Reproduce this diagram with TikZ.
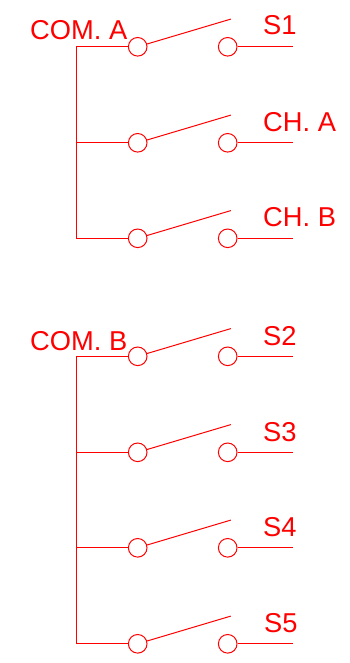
\documentclass[tikz,border=0pt]{standalone}
\usepackage{fontspec}
\setmainfont{Liberation Sans}
\tikzset{
  wire/.style={draw=red,line width=1pt},
  contact/.style={circle,draw=red,line width=1pt,fill=white,inner sep=0pt,minimum size=18.6pt},
  lbl/.style={text=red,font=\fontsize{27.3}{30}\selectfont,anchor=base west,inner sep=0pt}
}
\begin{document}
\begin{tikzpicture}[x=1pt,y=-1pt]
\useasboundingbox (0,0) rectangle (350,663);
\foreach \n/\y in {1/46.8,2/142.8,3/238.3,4/356.3,5/452.3,6/547.8,7/643.8}{
  \node[contact] (a\n) at (137.7,\y) {};
  \node[contact] (b\n) at (227.7,\y) {};
  \coordinate (tip\n) at (230.8,\y-27.7);
  \coordinate (end\n) at (293,\y);
  \coordinate (rail\n) at (76.5,\y);
  \draw[wire] (a\n) -- (tip\n);
  \draw[wire] (b\n) -- (end\n);
}
\draw[wire] (a1) -- (rail1) -- (rail3) -- (a3);
\draw[wire] (a2) -- (rail2);
\draw[wire] (a4) -- (rail4) -- (rail7) -- (a7);
\draw[wire] (a5) -- (rail5);
\draw[wire] (a6) -- (rail6);
\node[lbl] (comA) at (30,40) {COM. A};
\node[lbl] (s1) at (263,35) {S1};
\node[lbl] (chA) at (263,132) {CH. A};
\node[lbl] (chB) at (263,226) {CH. B};
\node[lbl] (comB) at (30,350) {COM. B};
\node[lbl] (s2) at (263,345) {S2};
\node[lbl] (s3) at (263,441) {S3};
\node[lbl] (s4) at (263,536) {S4};
\node[lbl] (s5) at (264,632) {S5};
\end{tikzpicture}
\end{document}
